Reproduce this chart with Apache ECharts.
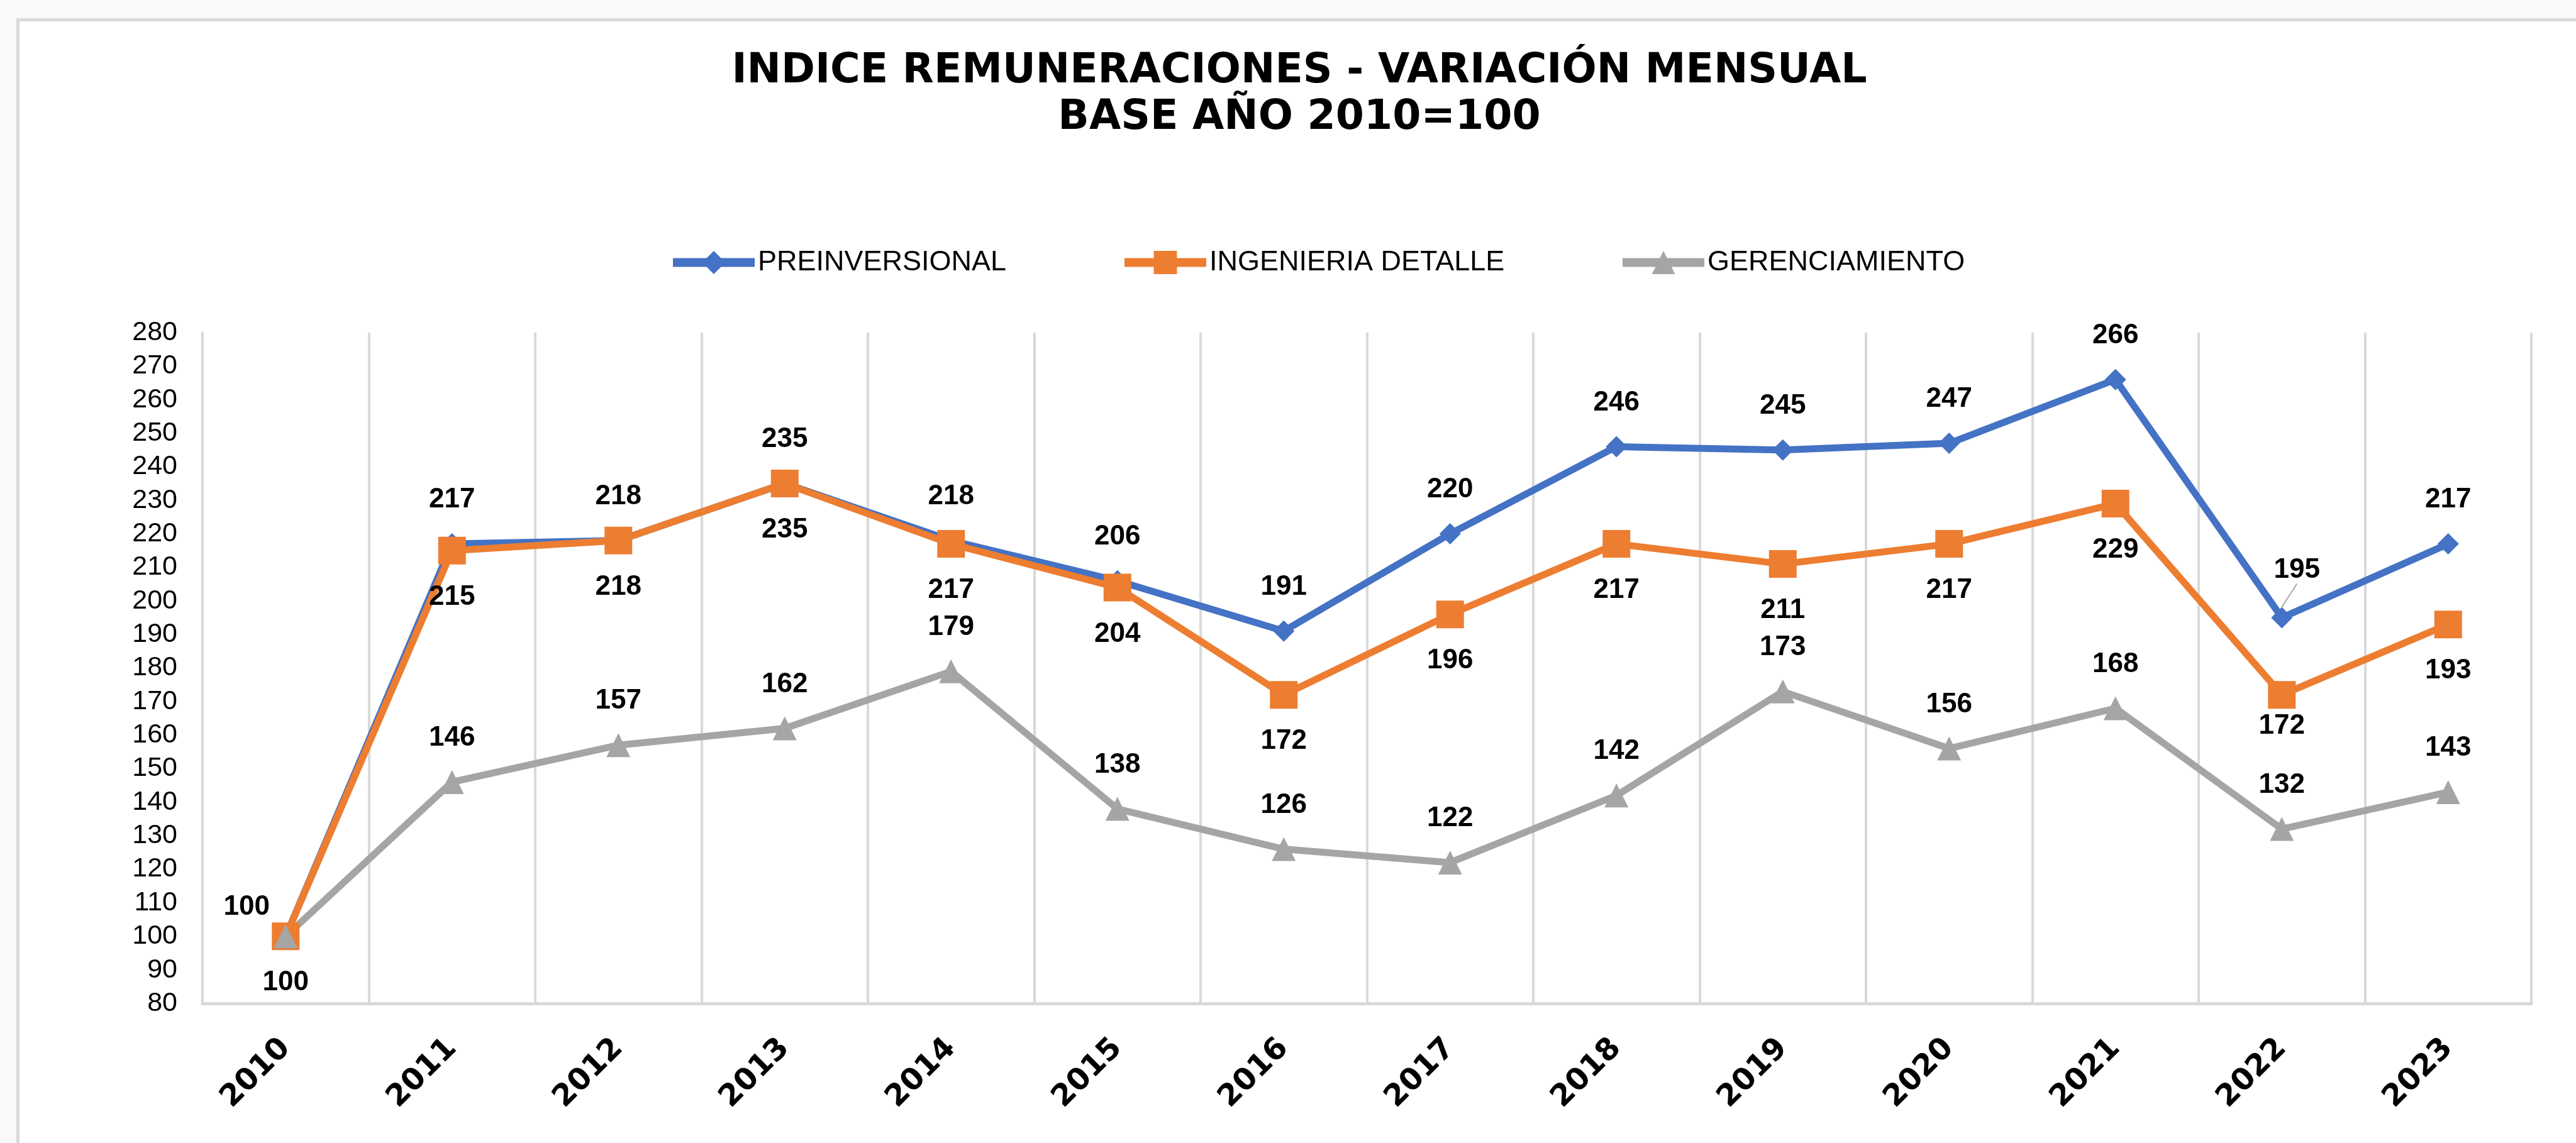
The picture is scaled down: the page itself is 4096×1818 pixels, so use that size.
<!DOCTYPE html>
<html>
<head>
<meta charset="utf-8">
<script src="https://cdn.jsdelivr.net/npm/echarts@6/dist/echarts.min.js"></script>
<style>
html,body{margin:0;padding:0;background:#f9f9f9;}
#c{width:4096px;height:1818px;}
</style>
</head>
<body>
<div id="c"></div>
<script>
// ---- data ----
const years = ['2010','2011','2012','2013','2014','2015','2016','2017','2018','2019','2020','2021','2022','2023'];
const preinversional   = [100,217,218,235,218,206,191,220,246,245,247,266,195,217];
const ingenieriaDetalle = [100,215,218,235,217,204,172,196,217,211,217,229,172,193];
const gerenciamiento   = [100,146,157,162,179,138,126,122,142,173,156,168,132,143];
const yMin = 80, yMax = 280, yStep = 10;
const seriesNames = ['PREINVERSIONAL','INGENIERIA DETALLE','GERENCIAMIENTO'];

// ---- label tweaks (index -> option) ----
const blueLabelMoves = { 0: { dx: -62, dy: -46 }, 12: { dx: 24, dy: -76 } };
const blueGuideIndex = 12;
const orangeLabelTweaks = { 12: { label: { offset: [0, 50] } } };
const grayLabelTweaks = { 0: { label: { show: false } } };

const labelFont = { fontFamily: 'Liberation Sans', fontWeight: 'bold', fontSize: 44, color: '#000' };

function build(name, values, color, symbol, size, dy, tweaks, extra) {
  return Object.assign({
    name: name,
    type: 'line',
    data: values.map((v, i) => tweaks[i] ? Object.assign({ value: v }, tweaks[i]) : v),
    symbol: symbol,
    symbolSize: size,
    lineStyle: { color: color, width: 11 },
    itemStyle: { color: color },
    label: Object.assign({ show: true, position: 'inside', offset: [0, dy] }, labelFont),
    animation: false
  }, extra || {});
}

const chart = echarts.init(document.getElementById('c'), null, { renderer: 'canvas' });

const legendBase = {
  top: 395, itemWidth: 130, itemHeight: 46, padding: 0,
  lineStyle: { width: 14 },
  textStyle: { fontFamily: 'Liberation Sans', fontSize: 45, color: '#000' }
};

const blueTweaks = {};
blueTweaks[blueGuideIndex] = { labelLine: { show: true, lineStyle: { color: '#a6a6a6', width: 2 } } };

chart.setOption({
  backgroundColor: '#f9f9f9',
  animation: false,
  graphic: [{
    type: 'rect', left: 26, top: 29, z: -10, silent: true,
    shape: { width: 4300, height: 1900 },
    style: { fill: '#ffffff', stroke: '#d9d9d9', lineWidth: 5 }
  }],
  title: {
    text: 'INDICE REMUNERACIONES - VARIACIÓN MENSUAL\nBASE AÑO 2010=100',
    left: 2066, top: 77, padding: 0, textAlign: 'center',
    textStyle: { fontFamily: 'DejaVu Sans', fontWeight: 'bold', fontSize: 65, lineHeight: 74, color: '#000' }
  },
  legend: [
    Object.assign({ data: [seriesNames[0]], left: 1063 }, legendBase),
    Object.assign({ data: [seriesNames[1]], left: 1781 }, legendBase),
    Object.assign({ data: [seriesNames[2]], left: 2573 }, legendBase)
  ],
  grid: { left: 322, right: 71, top: 529, bottom: 222, containLabel: false },
  xAxis: {
    type: 'category',
    data: years,
    boundaryGap: true,
    axisLine: { show: true, lineStyle: { color: '#d9d9d9', width: 5 } },
    axisTick: { show: false },
    splitLine: { show: true, interval: 0, lineStyle: { color: '#d9d9d9', width: 4 } },
    axisLabel: { interval: 0, rotate: 45, margin: 64, fontFamily: 'DejaVu Sans', fontWeight: 'bold', fontSize: 48, color: '#000' }
  },
  yAxis: {
    type: 'value',
    min: yMin, max: yMax, interval: yStep,
    axisLine: { show: true, lineStyle: { color: '#d9d9d9', width: 4 } },
    axisTick: { show: false },
    splitLine: { show: false },
    axisLabel: { margin: 40, fontFamily: 'Liberation Sans', fontSize: 43, color: '#000' }
  },
  series: [
    build(seriesNames[0], preinversional, '#4472C4', 'diamond', 34, 0, blueTweaks, {
      labelLayout: function (p) { return blueLabelMoves[p.dataIndex] || { dx: 0, dy: -70 }; },
      labelLine: { show: false }
    }),
    build(seriesNames[1], ingenieriaDetalle, '#ED7D31', 'rect', 44, 74, orangeLabelTweaks),
    build(seriesNames[2], gerenciamiento, '#A5A5A5', 'triangle', 38, -70, grayLabelTweaks)
  ]
});
</script>
</body>
</html>
